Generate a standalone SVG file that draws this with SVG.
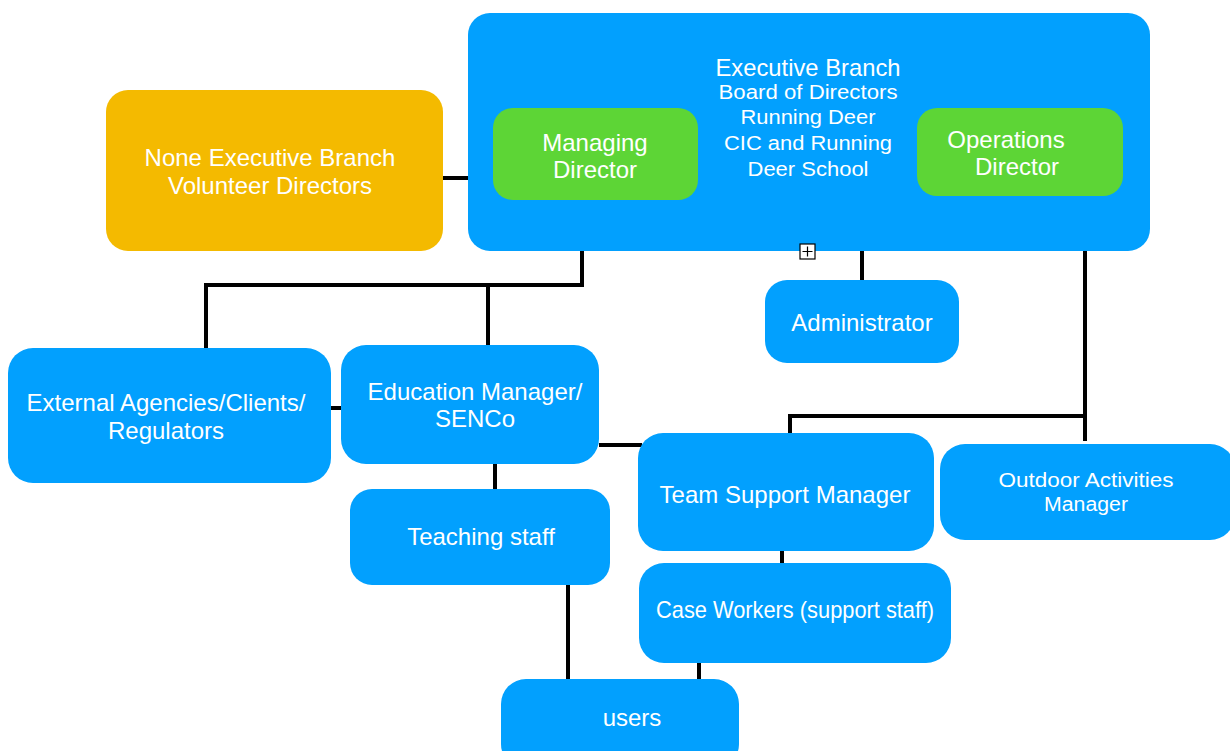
<svg xmlns="http://www.w3.org/2000/svg" width="1230" height="751" viewBox="0 0 1230 751">
<style>
.b{fill:#02A0FE}
.g{fill:#5DD536}
.o{fill:#F4BA00}
text{font-family:"Liberation Sans",Arial,sans-serif;fill:#fff;text-anchor:middle;font-size:24px}
.s{font-size:20px}
.c{stroke:#000;stroke-width:4;fill:none}
</style>
<rect width="1230" height="751" fill="#fff"/>
<g id="connectors">
<path class="c" d="M443 178H468"/>
<path class="c" d="M582 221V285H206V349"/>
<path class="c" d="M488 285V345" stroke-width="3"/>
<path class="c" d="M862 246V280"/>
<path class="c" d="M1085 236V441"/>
<path class="c" d="M1085 416H790V442"/>
<path class="c" d="M331 408H341"/>
<path class="c" d="M599 445H642"/>
<path class="c" d="M495 464V489"/>
<path class="c" d="M782 544V563"/>
<path class="c" d="M568 585V680"/>
<path class="c" d="M699 663V680"/>
</g>
<g id="executive">
<rect class="b" x="468" y="13" width="682" height="238" rx="22"/>
<text x="808" y="75.5" font-size="21.5" textLength="185" lengthAdjust="spacingAndGlyphs">Executive Branch</text>
<text x="808" y="99" class="s" textLength="179" lengthAdjust="spacingAndGlyphs">Board of Directors</text>
<text x="808" y="124" class="s" textLength="135" lengthAdjust="spacingAndGlyphs">Running Deer</text>
<text x="808" y="150" class="s" textLength="168" lengthAdjust="spacingAndGlyphs">CIC and Running</text>
<text x="808" y="176" class="s" textLength="121" lengthAdjust="spacingAndGlyphs">Deer School</text>
<rect x="800" y="244" width="15" height="15" fill="#fff" stroke="#000" stroke-width="1.2"/>
<path d="M807.5 246.5V256.5M802.5 251.5H812.5" stroke="#000" stroke-width="1.2"/>
</g>
<g id="managing-director">
<rect class="g" x="493" y="108" width="205" height="92" rx="20"/>
<text x="595" y="150.5">Managing</text>
<text x="595" y="177.5">Director</text>
</g>
<g id="operations-director">
<rect class="g" x="917" y="108" width="206" height="88" rx="20"/>
<text x="1006" y="147.5">Operations</text>
<text x="1017" y="174.5">Director</text>
</g>
<g id="non-executive">
<rect class="o" x="106" y="90" width="337" height="161" rx="22"/>
<text x="270" y="165.5">None Executive Branch</text>
<text x="270" y="193.5">Volunteer Directors</text>
</g>
<g id="administrator">
<rect class="b" x="765" y="280" width="194" height="83" rx="22"/>
<text x="862" y="330.5">Administrator</text>
</g>
<g id="external">
<rect class="b" x="8" y="348" width="323" height="135" rx="25"/>
<text x="166" y="410.5">External Agencies/Clients/</text>
<text x="166" y="438.5">Regulators</text>
</g>
<g id="education">
<rect class="b" x="341" y="345" width="258" height="119" rx="25"/>
<text x="475" y="399.5">Education Manager/</text>
<text x="475" y="426.5">SENCo</text>
</g>
<g id="teaching">
<rect class="b" x="350" y="489" width="260" height="96" rx="22"/>
<text x="481" y="544.5">Teaching staff</text>
</g>
<g id="team-support">
<rect class="b" x="638" y="433" width="296" height="118" rx="25"/>
<text x="785" y="502.5">Team Support Manager</text>
</g>
<g id="case-workers">
<rect class="b" x="639" y="563" width="312" height="100" rx="25"/>
<text x="795" y="618" font-size="20.3" textLength="278" lengthAdjust="spacingAndGlyphs">Case Workers (support staff)</text>
</g>
<g id="outdoor">
<rect class="b" x="940" y="444" width="295" height="96" rx="25"/>
<text x="1086" y="486.5" class="s" textLength="175" lengthAdjust="spacingAndGlyphs">Outdoor Activities</text>
<text x="1086" y="510.5" class="s" textLength="84" lengthAdjust="spacingAndGlyphs">Manager</text>
</g>
<g id="users">
<rect class="b" x="501" y="679" width="238" height="90" rx="25"/>
<text x="632" y="725.5" font-size="22">users</text>
</g>
</svg>
